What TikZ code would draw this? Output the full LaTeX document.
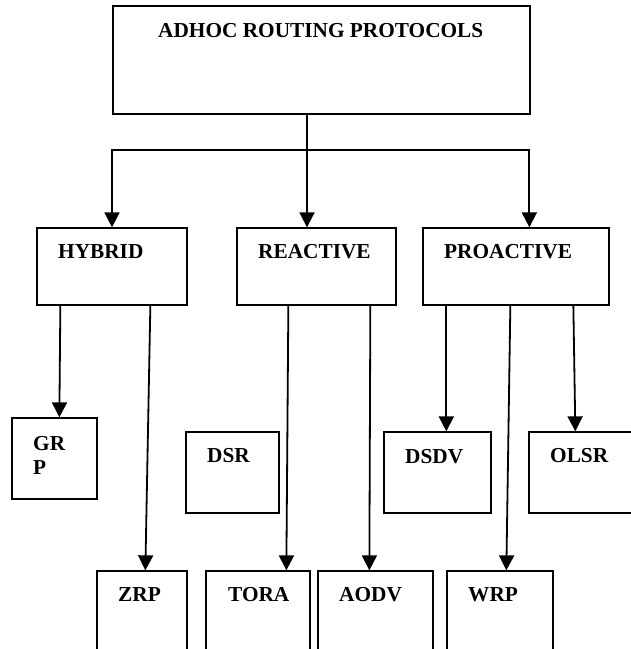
\documentclass[tikz,border=0pt]{standalone}
\usepackage{fontspec}
\setmainfont{Liberation Serif}
\usetikzlibrary{arrows.meta}

\begin{document}
\begin{tikzpicture}[x=1pt,y=-1pt]
    \tikzstyle{box}=[draw=black,line width=1.3pt,inner sep=0pt]
    \tikzstyle{word}=[inner sep=0pt,anchor=west,font=\fontsize{21.3pt}{24pt}\selectfont\bfseries,align=left]
    \tikzstyle{fwd}=[draw=black,line width=1.8pt]
    \tikzstyle{arr}=[fwd,-{Triangle[width=15pt,length=15pt]}]

    \def\hy{266.5}
    \def\my{472.5}
    \def\by{615.5}

    \useasboundingbox (0,0) rectangle (631,649);

    % boxes
    \node[box,minimum width=417pt,minimum height=108pt] (adhoc) at (321.5,60) {};

    \node[box,minimum width=150pt,minimum height=77pt] (hybrid) at (112,\hy) {};
    \node[box,minimum width=159pt,minimum height=77pt] (reactive) at (316.5,\hy) {};
    \node[box,minimum width=186pt,minimum height=77pt] (proactive) at (516,\hy) {};

    \node[box,minimum width=85pt,minimum height=81pt] (grp) at (54.5,458.5) {};
    \node[box,minimum width=93pt,minimum height=81pt] (dsr) at (232.5,\my) {};
    \node[box,minimum width=107pt,minimum height=81pt] (dsdv) at (437.5,\my) {};
    \node[box,minimum width=116pt,minimum height=81pt] (olsr) at (587,\my) {};

    \node[box,minimum width=90pt,minimum height=89pt] (zrp) at (142,\by) {};
    \node[box,minimum width=104pt,minimum height=89pt] (tora) at (258,\by) {};
    \node[box,minimum width=115pt,minimum height=89pt] (aodv) at (375.5,\by) {};
    \node[box,minimum width=106pt,minimum height=89pt] (wrp) at (500,\by) {};

    % texts
    \node[word] (adhoc-t) at (158,31) {ADHOC ROUTING PROTOCOLS};
    \node[word] (hybrid-t) at (58,252) {HYBRID};
    \node[word] (reactive-t) at (258,252) {REACTIVE};
    \node[word] (proactive-t) at (444,252) {PROACTIVE};
    \node[word] (grp-t) at (33,455) {GR\\P};
    \node[word] (dsr-t) at (207,456) {DSR};
    \node[word] (dsdv-t) at (405,457) {DSDV};
    \node[word] (olsr-t) at (550,456) {OLSR};
    \node[word] (zrp-t) at (118,595) {ZRP};
    \node[word] (tora-t) at (228,595) {TORA};
    \node[word] (aodv-t) at (339,595) {AODV};
    \node[word] (wrp-t) at (468,595) {WRP};

    % top level
    \coordinate (split) at (307,150);
    \draw [fwd] (adhoc.south -| split) -- (split);
    \draw [arr] (split) -| (hybrid.north);
    \draw [arr] (split) -- (split |- reactive.north);
    \draw [arr] (split) -| ([xshift=107pt]proactive.north west);

    % hybrid
    \draw [arr] ([xshift=24pt]hybrid.south west) -- ([xshift=48pt]grp.north west);
    \draw [arr] ([xshift=114pt]hybrid.south west) -- ([xshift=49pt]zrp.north west);

    % reactive
    \draw [arr] ([xshift=52pt]reactive.south west) -- ([xshift=81pt]tora.north west);
    \draw [arr] ([xshift=134pt]reactive.south west) -- ([xshift=52pt]aodv.north west);

    % proactive
    \draw [arr] ([xshift=24pt]proactive.south west) -- ([xshift=63pt]dsdv.north west);
    \draw [arr] ([xshift=88pt]proactive.south west) -- ([xshift=60pt]wrp.north west);
    \draw [arr] ([xshift=151pt]proactive.south west) -- ([xshift=47pt]olsr.north west);

\end{tikzpicture}
\end{document}
